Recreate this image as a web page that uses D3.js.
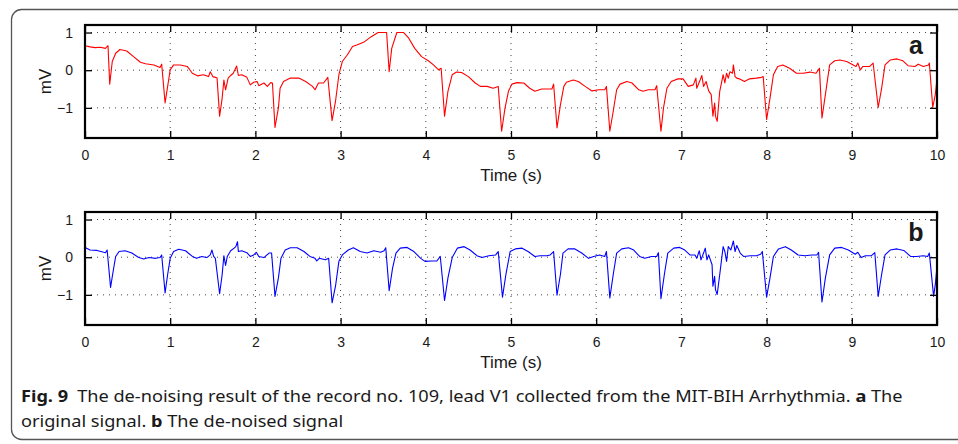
<!DOCTYPE html>
<html lang="en">
<head>
  <meta charset="UTF-8">
  <script src="https://cdn.jsdelivr.net/npm/d3@7"></script>
  <title>ECG de-noising</title>
  <style>
    body { margin: 0; background: #fff; }
    svg text { fill: #1a1a1a; }
  </style>
</head>
<body>
  <svg width="958" height="444" id="fig"></svg>
  <script>
    // original signal (a): [time s, mV]
    const signalA = [
      [0,0.65],[0.06,0.62],[0.12,0.6],[0.18,0.61],[0.24,0.58],[0.27,0.65],[0.29,-0.37],[0.32,0.23],[0.36,0.45],[0.41,0.55],
      [0.49,0.51],[0.57,0.36],[0.65,0.21],[0.71,0.17],[0.81,0.14],[0.88,0.07],[0.9,0.16],[0.94,-0.87],[0.97,-0.43],[1.0,0.01],
      [1.04,0.14],[1.12,0.14],[1.2,0.1],[1.26,-0.08],[1.32,-0.15],[1.39,-0.12],[1.45,-0.17],[1.47,-0.04],[1.5,-0.17],[1.53,-0.19],
      [1.55,-0.21],[1.58,-1.22],[1.61,-0.74],[1.63,-0.26],[1.65,-0.52],[1.68,-0.21],[1.71,-0.14],[1.74,-0.08],[1.78,0.11],[1.8,-0.14],
      [1.84,-0.12],[1.9,-0.19],[1.94,-0.39],[1.98,-0.32],[2.02,-0.3],[2.04,-0.41],[2.1,-0.34],[2.14,-0.43],[2.18,-0.33],[2.2,-0.34],
      [2.23,-1.52],[2.27,-1.0],[2.29,-0.48],[2.33,-0.3],[2.41,-0.21],[2.51,-0.21],[2.59,-0.3],[2.67,-0.43],[2.7,-0.52],[2.74,-0.34],
      [2.8,-0.34],[2.85,-0.19],[2.9,-1.34],[2.94,-0.83],[2.98,-0.12],[3.02,0.23],[3.08,0.41],[3.14,0.63],[3.19,0.67],[3.27,0.74],
      [3.36,0.89],[3.44,1.0],[3.54,1.0],[3.57,-0.04],[3.6,0.58],[3.66,1.0],[3.74,1.0],[3.8,0.85],[3.87,0.58],[3.95,0.36],
      [4.03,0.25],[4.09,0.14],[4.15,0.01],[4.18,0.05],[4.22,-1.22],[4.26,-0.56],[4.31,-0.12],[4.36,-0.05],[4.42,-0.06],[4.5,-0.17],
      [4.58,-0.34],[4.64,-0.43],[4.72,-0.43],[4.79,-0.48],[4.85,-0.43],[4.89,-1.62],[4.93,-1.0],[4.97,-0.56],[5.01,-0.37],[5.07,-0.33],
      [5.15,-0.34],[5.22,-0.48],[5.28,-0.56],[5.36,-0.5],[5.44,-0.5],[5.48,-0.5],[5.5,-0.37],[5.54,-1.53],[5.58,-0.92],[5.62,-0.43],
      [5.65,-0.32],[5.73,-0.26],[5.79,-0.3],[5.87,-0.43],[5.95,-0.55],[6.03,-0.52],[6.1,-0.52],[6.12,-0.43],[6.16,-1.62],[6.2,-1.09],
      [6.24,-0.52],[6.28,-0.37],[6.36,-0.3],[6.42,-0.34],[6.5,-0.52],[6.55,-0.56],[6.61,-0.52],[6.69,-0.52],[6.71,-0.41],[6.76,-1.62],
      [6.79,-1.0],[6.83,-0.48],[6.88,-0.3],[6.96,-0.23],[7.02,-0.23],[7.08,-0.43],[7.14,-0.39],[7.17,-0.21],[7.18,-0.48],[7.22,-0.26],
      [7.24,-0.14],[7.26,-0.43],[7.29,-0.3],[7.32,-0.55],[7.35,-0.65],[7.37,-1.22],[7.39,-0.87],[7.4,-1.22],[7.42,-1.36],[7.45,-0.56],
      [7.49,-0.12],[7.51,-0.34],[7.53,-0.08],[7.55,-0.21],[7.57,-0.04],[7.6,-0.08],[7.61,0.14],[7.63,-0.17],[7.65,-0.21],[7.68,-0.23],
      [7.74,-0.3],[7.8,-0.23],[7.88,-0.21],[7.94,-0.19],[7.96,-0.17],[8.0,-1.31],[8.04,-0.74],[8.08,-0.12],[8.13,0.1],[8.19,0.14],
      [8.27,0.05],[8.35,-0.08],[8.43,-0.08],[8.51,-0.05],[8.58,-0.08],[8.62,0.05],[8.65,-1.27],[8.69,-0.65],[8.74,0.14],[8.8,0.25],
      [8.86,0.27],[8.94,0.23],[9.0,0.16],[9.05,0.1],[9.07,0.19],[9.1,0.01],[9.13,0.1],[9.21,0.1],[9.25,0.19],[9.31,-0.99],
      [9.35,-0.48],[9.39,0.14],[9.45,0.27],[9.53,0.3],[9.6,0.25],[9.66,0.12],[9.74,0.1],[9.78,0.16],[9.84,0.1],[9.9,0.14],
      [9.91,0.19],[9.95,-0.99],[9.98,-0.65],[10.0,-0.23]
    ];

    // de-noised signal (b): [time s, mV]
    const signalB = [
      [0,0.26],[0.06,0.19],[0.14,0.18],[0.22,0.13],[0.24,0.12],[0.26,0.19],[0.3,-0.8],[0.33,-0.38],[0.36,0.02],[0.4,0.15],
      [0.47,0.17],[0.55,0.11],[0.63,-0.01],[0.69,-0.05],[0.75,-0.01],[0.83,-0.03],[0.88,-0.01],[0.9,0.06],[0.94,-0.95],[0.97,-0.46],
      [1.0,-0.03],[1.04,0.15],[1.1,0.21],[1.18,0.17],[1.26,0.02],[1.31,-0.03],[1.37,0.02],[1.43,-0.01],[1.47,0.06],[1.49,0.19],
      [1.51,0.02],[1.53,-0.03],[1.58,-0.97],[1.61,-0.46],[1.63,0.04],[1.65,-0.22],[1.67,0.02],[1.71,0.17],[1.75,0.24],[1.77,0.28],
      [1.79,0.41],[1.8,0.15],[1.84,0.17],[1.9,0.12],[1.94,0.02],[1.98,0.06],[2.01,0.13],[2.04,0.02],[2.1,-0.01],[2.16,0.11],
      [2.19,0.11],[2.23,-1.04],[2.27,-0.55],[2.3,-0.03],[2.35,0.19],[2.41,0.25],[2.49,0.25],[2.57,0.15],[2.64,0.02],[2.7,-0.03],
      [2.72,-0.1],[2.75,-0.03],[2.82,-0.07],[2.86,-0.03],[2.9,-1.21],[2.94,-0.77],[2.98,-0.11],[3.02,0.06],[3.09,0.19],[3.15,0.25],
      [3.23,0.15],[3.31,0.11],[3.39,0.17],[3.47,0.13],[3.51,0.17],[3.53,0.25],[3.57,-0.89],[3.61,-0.29],[3.65,0.11],[3.7,0.24],
      [3.78,0.26],[3.86,0.15],[3.94,-0.03],[3.99,-0.11],[4.07,-0.1],[4.13,-0.1],[4.17,0.02],[4.22,-1.15],[4.26,-0.55],[4.31,-0.01],
      [4.37,0.24],[4.45,0.28],[4.52,0.19],[4.6,0.04],[4.66,-0.01],[4.74,0.04],[4.82,0.06],[4.85,0.15],[4.9,-1.06],[4.94,-0.46],
      [4.99,0.15],[5.05,0.22],[5.13,0.24],[5.2,0.15],[5.28,0.02],[5.34,0.04],[5.42,0.04],[5.46,0.06],[5.5,0.15],[5.54,-1.01],
      [5.58,-0.46],[5.61,0.11],[5.67,0.22],[5.75,0.22],[5.83,0.11],[5.91,-0.03],[5.97,0.02],[6.04,0.06],[6.1,0.02],[6.12,0.15],
      [6.16,-1.08],[6.2,-0.46],[6.24,0.11],[6.3,0.22],[6.38,0.25],[6.44,0.19],[6.51,0.02],[6.57,-0.03],[6.65,0.02],[6.71,0.02],
      [6.73,0.12],[6.76,-1.1],[6.8,-0.46],[6.84,0.11],[6.91,0.24],[6.98,0.26],[7.04,0.19],[7.1,0.06],[7.16,0.06],[7.18,-0.03],
      [7.21,0.17],[7.23,-0.07],[7.26,0.11],[7.28,0.24],[7.3,-0.07],[7.32,0.06],[7.36,-0.2],[7.37,-0.77],[7.39,-0.51],[7.4,-0.86],
      [7.42,-0.99],[7.45,-0.46],[7.49,0.28],[7.51,0.15],[7.53,-0.11],[7.55,0.28],[7.58,0.19],[7.61,0.43],[7.63,0.15],[7.65,0.31],
      [7.69,0.11],[7.73,0.02],[7.81,0.04],[7.88,0.04],[7.93,0.08],[7.95,0.15],[8.0,-1.06],[8.04,-0.55],[8.08,0.02],[8.14,0.22],
      [8.22,0.28],[8.29,0.19],[8.37,0.06],[8.45,0.04],[8.53,0.06],[8.59,0.06],[8.61,0.13],[8.65,-1.19],[8.69,-0.55],[8.74,0.06],
      [8.8,0.24],[8.88,0.26],[8.96,0.19],[9.04,0.08],[9.07,0.13],[9.11,-0.01],[9.16,0.04],[9.23,0.04],[9.27,0.12],[9.31,-1.04],
      [9.35,-0.46],[9.39,0.06],[9.45,0.19],[9.53,0.22],[9.61,0.18],[9.69,0.02],[9.76,0.02],[9.84,0.04],[9.89,0.02],[9.91,0.11],
      [9.96,-1.04],[9.98,-0.73],[10.0,-0.25]
    ];

    const xTicks = [0, 1, 2, 3, 4, 5, 6, 7, 8, 9, 10];
    const yTicks = [-1, 0, 1];
    const panels = [
      { label: "a", data: signalA, color: "#ff0000", top: 25 },
      { label: "b", data: signalB, color: "#0000ff", top: 212 }
    ];

    const svg = d3.select("#fig");
    const W = 958;
    const plotW = 852, plotH = 113, left = 85;
    const font = "'Liberation Sans', Arial, sans-serif";

    // outer frame (runs off the right edge)
    svg.append("rect")
      .attr("x", 11.5).attr("y", 9.5)
      .attr("width", W + 20).attr("height", 430)
      .attr("rx", 10)
      .attr("fill", "none")
      .attr("stroke", "#555")
      .attr("stroke-width", 1.3);

    let x = d3.scaleLinear().domain([0, 10]).range([left, left + plotW]);

    panels.forEach(p => {
      let y = d3.scaleLinear().domain([-1.8, 1.2]).range([p.top + plotH, p.top]);
      let g = svg.append("g");

      // dotted grid
      g.selectAll(".gx").data(xTicks.slice(1, -1)).enter().append("line")
        .attr("x1", d => x(d)).attr("x2", d => x(d))
        .attr("y1", p.top).attr("y2", p.top + plotH)
        .attr("stroke", "#444").attr("stroke-width", 1)
        .attr("stroke-dasharray", "1,5");
      g.selectAll(".gy").data(yTicks).enter().append("line")
        .attr("x1", left).attr("x2", left + plotW)
        .attr("y1", d => y(d)).attr("y2", d => y(d))
        .attr("stroke", "#444").attr("stroke-width", 1)
        .attr("stroke-dasharray", "1,5");

      // signal
      let line = d3.line().x(d => x(d[0])).y(d => y(d[1]));
      g.append("path")
        .datum(p.data)
        .attr("d", line)
        .attr("fill", "none")
        .attr("stroke", p.color)
        .attr("stroke-width", 1.1)
        .attr("stroke-linejoin", "round");

      // axes, ticks inside like MATLAB
      let axB = g.append("g").attr("transform", `translate(0,${p.top + plotH})`)
        .call(d3.axisBottom(x).tickValues(xTicks).tickSizeInner(-7).tickSizeOuter(0).tickPadding(12).tickFormat(d3.format("d")));
      let axT = g.append("g").attr("transform", `translate(0,${p.top})`)
        .call(d3.axisTop(x).tickValues(xTicks).tickSizeInner(-7).tickSizeOuter(0).tickFormat(""));
      let axL = g.append("g").attr("transform", `translate(${left},0)`)
        .call(d3.axisLeft(y).tickValues(yTicks).tickSizeInner(-7).tickSizeOuter(0).tickPadding(12).tickFormat(d3.format("d")));
      let axR = g.append("g").attr("transform", `translate(${left + plotW},0)`)
        .call(d3.axisRight(y).tickValues(yTicks).tickSizeInner(-7).tickSizeOuter(0).tickFormat(""));
      [axB, axT, axL, axR].forEach(a => {
        a.select(".domain").remove();
        a.selectAll("line").attr("stroke", "#000").attr("stroke-width", 1.3);
        a.selectAll("text").style("font-family", font).style("font-size", "14px").attr("fill", "#1a1a1a");
      });

      // box
      g.append("rect")
        .attr("x", left).attr("y", p.top)
        .attr("width", plotW).attr("height", plotH)
        .attr("fill", "none").attr("stroke", "#000").attr("stroke-width", 2.2);

      g.append("text")
        .attr("transform", `translate(51,${p.top + plotH / 2}) rotate(-90)`)
        .attr("text-anchor", "middle")
        .style("font-family", font).style("font-size", "17px")
        .text("mV");

      g.append("text")
        .attr("x", x(5)).attr("y", p.top + plotH + 43)
        .attr("text-anchor", "middle")
        .style("font-family", font).style("font-size", "17px")
        .text("Time (s)");

      g.append("text")
        .attr("x", 916).attr("y", p.top + 29)
        .attr("text-anchor", "middle")
        .style("font-family", font).style("font-size", "25px").style("font-weight", "bold")
        .text(p.label);
    });

    // caption
    const capFont = "'Noto Sans', 'Open Sans', sans-serif";
    let cap = svg.append("g").attr("class", "caption");
    let l1 = cap.append("text").attr("y", 402).style("font-family", capFont).style("font-size", "16.5px");
    l1.append("tspan").style("font-weight", "bold").text("Fig. 9");
    l1.append("tspan").text("\u2002The de-noising result of the record no. 109, lead V1 collected from the MIT-BIH Arrhythmia. ");
    l1.append("tspan").style("font-weight", "bold").text("a");
    l1.append("tspan").text(" The");
    let l2 = cap.append("text").attr("y", 427).style("font-family", capFont).style("font-size", "16.5px");
    l2.append("tspan").text("original signal. ");
    l2.append("tspan").style("font-weight", "bold").text("b");
    l2.append("tspan").text(" The de-noised signal");

    // the caption face is condensed: squeeze to the reference width
    let k = 882 / l1.node().getComputedTextLength();
    cap.attr("transform", `translate(21,0) scale(${k},1)`);
  </script>
</body>
</html>
